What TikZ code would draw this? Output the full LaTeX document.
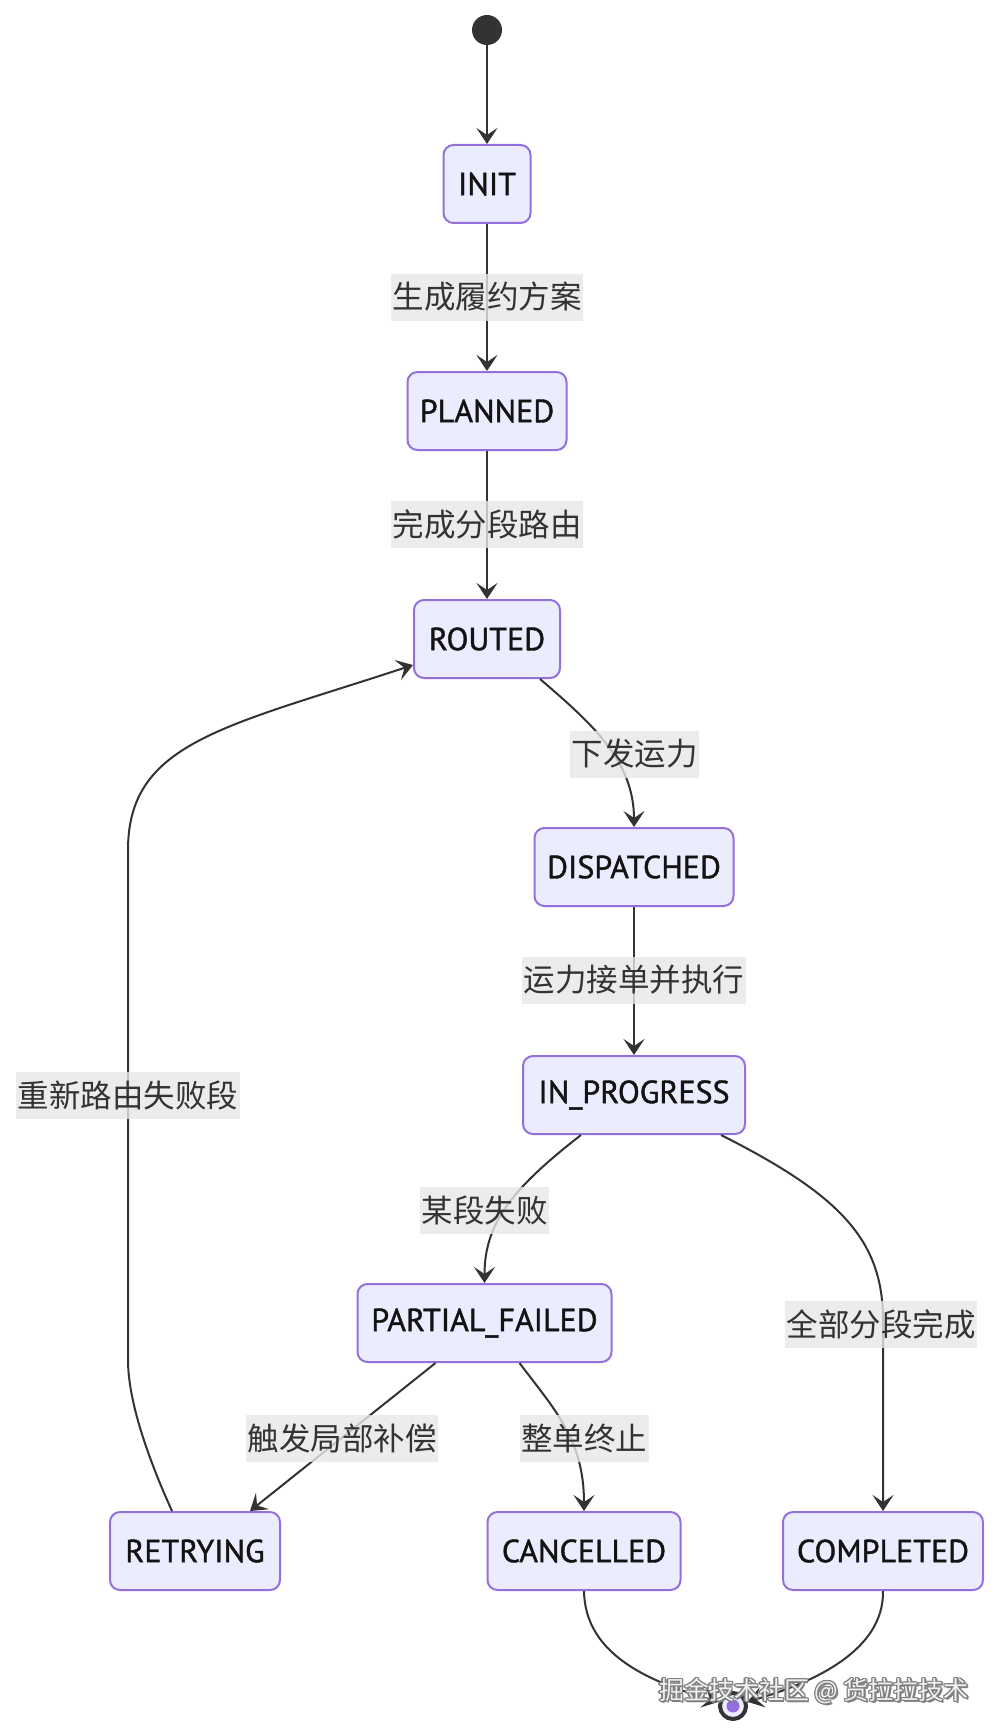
\documentclass[tikz,border=0pt]{standalone}
\usepackage{fontspec}
\setmainfont{PT Sans}
\newfontfamily\cjk{Noto Sans CJK SC}
\newfontfamily\statefont[FakeBold=1.2]{PT Sans}
\usetikzlibrary{arrows.meta}
\definecolor{lav}{HTML}{ECECFF}
\definecolor{purp}{HTML}{9370DB}
\definecolor{edgec}{HTML}{333333}
\definecolor{lblbg}{HTML}{E8E8E8}
\definecolor{txt}{HTML}{131313}
\begin{document}
\begin{tikzpicture}[x=1pt,y=-1pt,
  stbox/.style={draw=purp, fill=lav, line width=2pt, rounded corners=10pt,
    minimum height=78pt, inner sep=0pt, text=txt,
    font=\statefont\fontsize{32}{38}\selectfont},
  elabel/.style={fill=lblbg, fill opacity=0.8, text opacity=1, text=edgec,
    inner xsep=1.5pt, inner ysep=0pt, minimum height=47pt,
    font=\cjk\fontsize{31.5}{37}\selectfont},
  conn/.style={draw=edgec, line width=2pt,
    -{Stealth[length=16pt,width=21pt,inset=7pt]}},
  wmark/.style={inner sep=0pt, font=\cjk\fontsize{25}{30}\selectfont},
]
\useasboundingbox (0,0) rectangle (1000,1736);
\fill[white] (0,0) rectangle (1000,1736);

% states
\node[circle, fill=edgec, minimum size=30pt, inner sep=0pt] (start) at (487,30) {};
\node[stbox, minimum width=87pt] (init) at (487,184) {INIT};
\node[stbox, minimum width=159pt] (planned) at (487,411) {PLANNED};
\node[stbox, minimum width=146pt] (routed) at (487,639) {ROUTED};
\node[stbox, minimum width=199pt] (dispatched) at (634,867) {DISPATCHED};
\node[stbox, minimum width=222pt] (inprog) at (634,1095) {IN\_PROGRESS};
\node[stbox, minimum width=254pt] (pf) at (484.5,1323) {PARTIAL\_FAILED};
\node[stbox, minimum width=170pt] (retrying) at (195,1551) {RETRYING};
\node[stbox, minimum width=193pt] (cancelled) at (584,1551) {CANCELLED};
\node[stbox, minimum width=200pt] (completed) at (883,1551) {COMPLETED};
\node[circle, draw=edgec, line width=4pt, fill=lav, minimum size=26pt, inner sep=0pt] (fin) at (733,1706) {};
\fill[purp] (fin.center) circle (6.5pt);

% connectors
\draw[conn] (start.south) -- (init.north);
\draw[conn] (init.south) -- (planned.north);
\draw[conn] (planned.south) -- (routed.north);
\draw[conn] ([xshift=53pt]routed.south) .. controls (590,722) and (634,760) .. (dispatched.north);
\draw[conn] (dispatched.south) -- (inprog.north);
\draw[conn] ([xshift=-53pt]inprog.south) .. controls (510,1190) and (484.5,1225) .. (pf.north);
\draw[conn] ([xshift=87pt]inprog.south) .. controls (840,1195) and (883,1240) .. (883,1320) -- (completed.north);
\draw[conn] ([xshift=-49pt]pf.south) -- ([xshift=55pt]retrying.north);
\draw[conn] ([xshift=35pt]pf.south) .. controls (555,1410) and (584,1440) .. (cancelled.north);
\draw[conn] ([xshift=-23pt]retrying.north) .. controls (158,1480) and (128,1410) .. (128,1360)
  -- (128,850) .. controls (128,742) and (225,727) .. ([yshift=-26pt]routed.west);
\draw[conn] (cancelled.south) .. controls (585,1655) and (650,1682) .. (fin);
\draw[conn] (completed.south) .. controls (884,1650) and (815,1682) .. (fin);

% edge labels
\node[elabel] (l1) at (487,297) {生成履约方案};
\node[elabel] (l2) at (487,524) {完成分段路由};
\node[elabel] (l3) at (634.5,754) {下发运力};
\node[elabel] (l4) at (634,980) {运力接单并执行};
\node[elabel] (l5) at (484.5,1210) {某段失败};
\node[elabel] (l6) at (881,1324) {全部分段完成};
\node[elabel] (l7) at (342,1438) {触发局部补偿};
\node[elabel] (l8) at (584,1438) {整单终止};
\node[elabel] (l9) at (128,1095) {重新路由失败段};

% watermark
\foreach \dx/\dy in {-1.3/0,1.3/0,0/-1.3,0/1.3,1/1,-1/-1,1/-1,-1/1,1.8/1.8}{
  \node[wmark, text=gray] at (814+\dx,1691+\dy) {掘金技术社区 @ 货拉拉技术};
}
\node[wmark, text=white!94!black] (wm) at (814,1691) {掘金技术社区 @ 货拉拉技术};
\end{tikzpicture}
\end{document}
